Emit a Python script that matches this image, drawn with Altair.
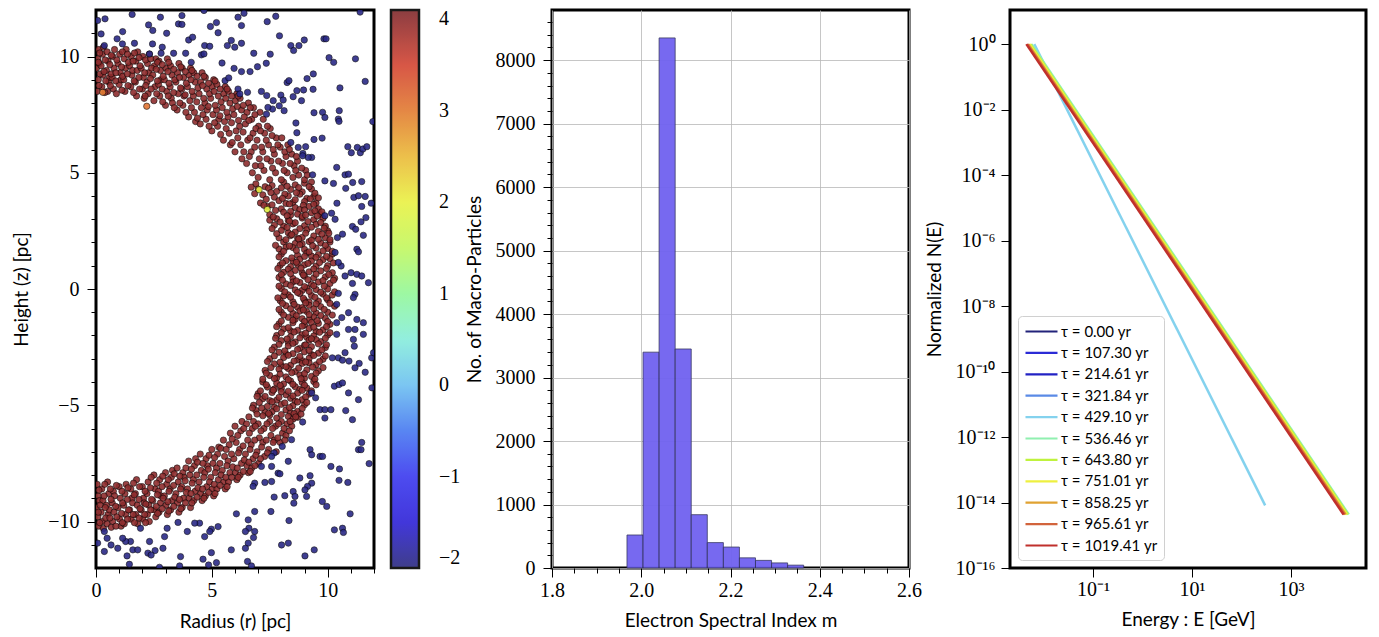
import altair as alt
import pandas as pd

# ---------------- Panel 1: particle positions (r, z) ----------------
red_pts = [
 (6.9,4.52),(7.6,4.45),(8.1,4.6),(8.6,4.48),(9.0,4.55),(7.3,4.4),
 (7.0,4.3),(7.8,4.2),(8.4,4.28),(8.9,4.18),(9.3,4.3),(8.0,4.35),
 (7.2,4.05),(7.7,3.95),(8.3,4.0),(8.8,4.08),(9.4,3.98),(9.1,3.9),
 (7.1,3.7),(7.9,3.8),(8.5,3.72),(9.0,3.76),(9.5,3.7),(8.2,3.68),
 (7.4,3.55),(8.0,3.45),(8.6,3.5),(9.2,3.55),(9.6,3.45),(8.8,3.42),
 (7.5,3.2),(8.1,3.3),(8.7,3.22),(9.3,3.28),(9.7,3.2),(8.4,3.18),
 (7.8,3.02),(8.3,2.95),(8.9,3.05),(9.4,2.98),(9.8,3.04),(7.5,2.96),
 (7.7,2.75),(8.5,2.8),(9.0,2.72),(9.5,2.78),(9.9,2.7),(8.1,2.7),
 (8.0,2.52),(8.6,2.45),(9.1,2.55),(9.6,2.48),(10.0,2.5),(8.3,2.42),
 (7.9,2.2),(8.4,2.3),(8.9,2.22),(9.4,2.28),(9.9,2.2),(8.7,2.18),
 (8.1,2.02),(8.6,1.96),(9.2,2.04),(9.7,1.98),(10.1,2.02),(8.9,1.94),
 (7.9,1.72),(8.5,1.78),(9.0,1.7),(9.5,1.76),(10.0,1.74),(8.2,1.8),
 (8.0,1.5),(8.7,1.45),(9.1,1.55),(9.6,1.48),(10.2,1.5),(9.3,1.42),
 (8.2,1.22),(8.8,1.28),(9.3,1.2),(9.8,1.26),(10.1,1.3),(8.5,1.2),
 (7.95,1.02),(8.4,0.96),(9.0,1.04),(9.5,0.98),(10.0,1.0),(8.7,1.06),
 (8.1,0.72),(8.6,0.8),(9.2,0.74),(9.7,0.78),(10.2,0.7),(8.9,0.7),
 (7.9,0.5),(8.5,0.45),(9.0,0.55),(9.4,0.48),(9.9,0.52),(10.3,0.46),
 (8.2,0.22),(8.8,0.28),(9.3,0.2),(9.6,0.3),(10.1,0.24),(8.5,0.3),
 (8.0,0.02),(8.6,-0.04),(9.1,0.04),(9.5,-0.02),(10.0,0.0),(8.9,-0.06),
 (8.3,-0.25),(8.8,-0.2),(9.3,-0.28),(9.8,-0.22),(10.2,-0.26),(8.1,-0.3),
 (7.95,-0.5),(8.5,-0.55),(9.0,-0.48),(9.6,-0.52),(10.0,-0.46),(9.2,-0.56),
 (8.2,-0.72),(8.7,-0.78),(9.2,-0.7),(9.7,-0.76),(10.3,-0.74),(8.9,-0.8),
 (8.0,-1.0),(8.5,-1.05),(9.1,-0.97),(9.5,-1.03),(10.0,-1.0),(8.8,-0.95),
 (8.3,-1.22),(8.9,-1.28),(9.4,-1.2),(9.9,-1.26),(8.6,-1.3),(9.2,-1.32),
 (7.9,-1.5),(8.5,-1.45),(9.0,-1.55),(9.6,-1.48),(10.1,-1.52),(9.3,-1.44),
 (8.1,-1.72),(8.7,-1.78),(9.2,-1.7),(9.8,-1.76),(8.4,-1.8),(9.5,-1.82),
 (7.8,-2.0),(8.4,-2.05),(8.9,-1.96),(9.4,-2.02),(10.0,-1.98),(9.1,-2.08),
 (8.0,-2.22),(8.6,-2.28),(9.2,-2.2),(9.7,-2.26),(8.3,-2.3),(9.5,-2.18),
 (7.7,-2.5),(8.3,-2.45),(8.8,-2.55),(9.3,-2.48),(9.9,-2.52),(9.0,-2.42),
 (7.9,-2.72),(8.5,-2.78),(9.0,-2.7),(9.6,-2.76),(8.2,-2.8),(9.3,-2.82),
 (7.5,-3.0),(8.1,-2.95),(8.7,-3.05),(9.2,-2.98),(9.8,-3.02),(8.9,-3.08),
 (7.7,-3.22),(8.4,-3.28),(8.9,-3.2),(9.5,-3.26),(8.0,-3.3),(9.2,-3.18),
 (7.3,-3.5),(7.9,-3.45),(8.6,-3.55),(9.1,-3.48),(9.6,-3.52),(8.3,-3.42),
 (7.5,-3.72),(8.2,-3.78),(8.8,-3.7),(9.3,-3.76),(7.8,-3.82),(9.0,-3.84),
 (7.2,-4.0),(7.8,-4.05),(8.4,-3.96),(8.9,-4.02),(9.4,-3.98),(8.1,-4.08),
 (7.4,-4.22),(8.0,-4.28),(8.6,-4.2),(9.1,-4.26),(7.7,-4.3),(8.8,-4.32),
 (7.0,-4.5),(7.6,-4.45),(8.2,-4.55),(8.7,-4.48),(9.2,-4.52),(8.0,-4.42),
 (7.2,-4.72),(7.8,-4.78),(8.4,-4.7),(8.9,-4.76),(7.5,-4.8),(8.6,-4.82),
 (6.8,-5.0),(7.4,-5.05),(8.0,-4.96),(8.5,-5.02),(9.0,-4.98),(7.7,-5.08),
 (6.9,-5.22),(7.6,-5.28),(8.2,-5.2),(8.7,-5.26),(7.3,-5.3),(8.4,-5.32),
 (6.6,-5.5),(7.2,-5.45),(7.8,-5.55),(8.3,-5.48),(8.7,-5.52),(7.5,-5.42),
 (0.05,8.5),(0.1,9.0),(0.02,9.5),(0.08,9.9),(0.12,10.3),(0.15,9.7),
 (0.25,8.7),(0.3,9.2),(0.22,9.6),(0.28,10.1),(0.32,10.4),
 (0.5,8.5),(0.55,8.9),(0.45,9.4),(0.52,9.8),(0.48,10.2),(0.58,9.1),
 (0.75,8.6),(0.7,9.1),(0.78,9.5),(0.72,10.0),(0.8,10.3),
 (1.0,8.8),(1.05,9.3),(0.95,9.7),(1.02,10.1),(1.08,9.0),
 (1.25,8.5),(1.2,9.0),(1.28,9.5),(1.22,9.9),(1.3,10.3),
 (1.5,8.7),(1.55,9.2),(1.45,9.6),(1.52,10.0),(1.58,9.4),
 (1.75,8.3),(1.7,8.9),(1.78,9.4),(1.72,9.8),(1.8,10.2),
 (2.0,8.6),(2.05,9.1),(1.95,9.5),(2.02,10.0),(2.08,8.2),
 (2.25,8.4),(2.2,8.9),(2.28,9.3),(2.22,9.7),(2.3,10.1),
 (2.5,8.1),(2.55,8.7),(2.45,9.2),(2.52,9.6),(2.58,9.9),
 (2.75,8.3),(2.7,8.8),(2.78,9.4),(2.72,9.8),(2.8,9.0),
 (3.0,7.9),(3.05,8.5),(2.95,9.0),(3.02,9.5),(3.08,9.9),
 (3.25,8.2),(3.2,8.7),(3.28,9.2),(3.22,9.6),(3.3,8.0),
 (3.5,7.7),(3.55,8.4),(3.45,8.9),(3.52,9.3),(3.58,9.7),
 (3.75,7.9),(3.7,8.6),(3.78,9.1),(3.72,9.5),(3.8,8.3),
 (4.0,7.4),(4.05,8.1),(3.95,8.7),(4.02,9.2),(4.08,9.5),
 (4.25,7.6),(4.2,8.3),(4.28,8.9),(4.22,9.3),(4.3,7.2),
 (4.5,7.1),(4.55,7.8),(4.45,8.4),(4.52,8.9),(4.58,9.3),
 (4.75,7.3),(4.7,8.0),(4.78,8.6),(4.72,9.1),(4.8,7.7),
 (5.0,6.8),(5.05,7.5),(4.95,8.2),(5.02,8.7),(5.08,9.0),
 (5.25,7.0),(5.2,7.7),(5.28,8.3),(5.22,8.8),(5.3,7.3),
 (5.5,6.4),(5.55,7.2),(5.45,7.8),(5.52,8.4),(5.58,8.7),
 (5.75,6.7),(5.7,7.4),(5.78,8.0),(5.72,8.5),(5.8,6.2),
 (6.0,5.9),(6.05,6.8),(5.95,7.5),(6.02,8.1),(6.08,8.4),
 (6.25,6.2),(6.2,7.0),(6.28,7.7),(6.22,8.2),(6.3,5.6),
 (6.5,5.4),(6.55,6.4),(6.45,7.1),(6.52,7.6),(6.58,8.0),
 (6.75,5.0),(6.7,5.9),(6.78,6.7),(6.72,7.3),(6.8,7.8),
 (7.0,4.8),(7.05,5.6),(6.95,6.4),(7.02,7.0),(7.08,7.6),
 (7.25,5.1),(7.2,5.9),(7.28,6.7),(7.22,7.3),
 (7.5,4.7),(7.55,5.5),(7.45,6.2),(7.52,6.9),
 (7.75,5.0),(7.7,5.8),(7.78,6.5),
 (8.0,4.7),(8.05,5.4),(7.95,6.1),(8.02,6.5),
 (8.25,5.0),(8.2,5.7),(8.28,6.2),
 (8.5,4.8),(8.55,5.3),(8.45,5.8),
 (8.75,4.9),(8.7,5.5),(9.0,4.7),(9.05,5.1),(9.3,4.6),
 (0.05,-8.4),(0.1,-8.9),(0.02,-9.4),(0.08,-9.8),(0.12,-10.2),(0.15,-9.1),
 (0.25,-8.6),(0.3,-9.1),(0.22,-9.6),(0.28,-10.0),(0.32,-10.3),
 (0.5,-8.3),(0.55,-8.8),(0.45,-9.3),(0.52,-9.7),(0.48,-10.1),(0.58,-9.5),
 (0.75,-8.7),(0.7,-9.2),(0.78,-9.6),(0.72,-10.0),(0.8,-8.9),
 (1.0,-8.5),(1.05,-9.0),(0.95,-9.4),(1.02,-9.9),(1.08,-10.2),
 (1.25,-8.8),(1.2,-9.3),(1.28,-9.7),(1.22,-10.1),(1.3,-8.4),
 (1.5,-8.6),(1.55,-9.0),(1.45,-9.5),(1.52,-9.9),(1.58,-9.2),
 (1.75,-8.2),(1.7,-8.8),(1.78,-9.3),(1.72,-9.7),(1.8,-10.1),
 (2.0,-8.5),(2.05,-9.0),(1.95,-9.5),(2.02,-9.9),(2.08,-9.2),
 (2.25,-8.3),(2.2,-8.8),(2.28,-9.3),(2.22,-9.7),(2.3,-10.0),
 (2.5,-8.0),(2.55,-8.6),(2.45,-9.1),(2.52,-9.5),(2.58,-9.8),
 (2.75,-8.2),(2.7,-8.7),(2.78,-9.2),(2.72,-9.6),(2.8,-8.9),
 (3.0,-7.9),(3.05,-8.4),(2.95,-8.9),(3.02,-9.3),(3.08,-9.7),
 (3.25,-8.1),(3.2,-8.6),(3.28,-9.1),(3.22,-9.5),(3.3,-7.8),
 (3.5,-7.7),(3.55,-8.3),(3.45,-8.8),(3.52,-9.2),(3.58,-9.6),
 (3.75,-7.9),(3.7,-8.5),(3.78,-9.0),(3.72,-9.4),(3.8,-8.1),
 (4.0,-7.4),(4.05,-8.0),(3.95,-8.6),(4.02,-9.0),(4.08,-9.4),
 (4.25,-7.6),(4.2,-8.2),(4.28,-8.7),(4.22,-9.1),(4.3,-7.3),
 (4.5,-7.1),(4.55,-7.8),(4.45,-8.3),(4.52,-8.8),(4.58,-9.1),
 (4.75,-7.3),(4.7,-7.9),(4.78,-8.5),(4.72,-8.9),(4.8,-7.6),
 (5.0,-6.9),(5.05,-7.5),(4.95,-8.1),(5.02,-8.6),(5.08,-8.9),
 (5.25,-7.1),(5.2,-7.7),(5.28,-8.2),(5.22,-8.6),(5.3,-6.8),
 (5.5,-6.5),(5.55,-7.2),(5.45,-7.8),(5.52,-8.3),(5.58,-8.6),
 (5.75,-6.7),(5.7,-7.4),(5.78,-7.9),(5.72,-8.3),(5.8,-6.2),
 (6.0,-5.9),(6.05,-6.6),(5.95,-7.3),(6.02,-7.9),(6.08,-8.2),
 (6.25,-6.1),(6.2,-6.9),(6.28,-7.5),(6.22,-8.0),(6.3,-5.7),
 (6.5,-5.8),(6.55,-6.5),(6.45,-7.1),(6.52,-7.6),(6.58,-7.9),
 (6.75,-6.0),(6.7,-6.7),(6.78,-7.3),(6.72,-7.7),(6.8,-5.7),
 (7.0,-5.8),(7.05,-6.4),(6.95,-7.0),(7.02,-7.5),
 (7.25,-6.0),(7.2,-6.6),(7.28,-7.2),
 (7.5,-5.7),(7.55,-6.3),(7.45,-6.9),
 (7.75,-5.9),(7.7,-6.5),(7.78,-7.0),
 (8.0,-5.7),(8.05,-6.2),(7.95,-6.6),
 (8.25,-5.8),(8.2,-6.3),(8.5,-5.6),(8.45,-5.9),
]

red_pts_b = [
 (6.7,4.38),(7.45,4.33),(8.25,4.42),(8.75,4.36),(9.2,4.4),
 (6.85,4.1),(7.55,4.15),(8.15,4.08),(8.65,4.14),(9.45,4.12),
 (7.35,3.86),(8.05,3.9),(8.6,3.84),(9.25,3.88),(9.6,3.92),
 (7.6,3.62),(8.35,3.66),(8.95,3.6),(9.4,3.64),(7.25,3.6),
 (7.75,3.38),(8.4,3.34),(9.0,3.4),(9.45,3.36),(9.75,3.32),
 (7.65,3.1),(8.25,3.15),(8.9,3.12),(9.55,3.14),(9.05,3.18),
 (7.95,2.88),(8.6,2.85),(9.15,2.9),(9.7,2.86),(8.35,2.92),
 (7.6,2.6),(8.25,2.65),(8.8,2.6),(9.3,2.66),(9.85,2.62),
 (7.8,2.38),(8.45,2.34),(9.05,2.4),(9.75,2.36),(10.05,2.4),
 (8.2,2.12),(8.75,2.15),(9.3,2.1),(9.6,2.14),(10.1,2.12),
 (7.75,1.88),(8.35,1.85),(8.8,1.9),(9.35,1.86),(9.9,1.88),
 (8.1,1.62),(8.65,1.66),(9.2,1.6),(9.8,1.64),(10.2,1.62),
 (7.9,1.38),(8.45,1.34),(9.0,1.4),(9.5,1.36),(9.95,1.4),
 (8.05,1.12),(8.65,1.15),(9.15,1.1),(9.65,1.14),(10.25,1.12),
 (7.85,0.88),(8.3,0.85),(8.85,0.9),(9.4,0.86),(9.95,0.88),
 (8.0,0.62),(8.4,0.66),(8.95,0.6),(9.5,0.64),(10.05,0.62),
 (8.05,0.38),(8.65,0.35),(9.15,0.4),(9.8,0.36),(10.25,0.38),
 (7.9,0.12),(8.4,0.15),(9.0,0.1),(9.4,0.14),(9.85,0.12),
 (8.15,-0.12),(8.7,-0.15),(9.2,-0.1),(9.7,-0.14),(10.3,-0.12),
 (7.85,-0.38),(8.4,-0.35),(8.95,-0.4),(9.45,-0.36),(9.95,-0.38),
 (8.05,-0.62),(8.55,-0.66),(9.05,-0.6),(9.5,-0.64),(10.1,-0.62),
 (7.9,-0.88),(8.4,-0.85),(8.95,-0.9),(9.4,-0.86),(9.85,-0.88),
 (8.1,-1.12),(8.65,-1.15),(9.2,-1.1),(9.7,-1.14),(10.2,-1.12),
 (8.0,-1.38),(8.5,-1.34),(9.0,-1.4),(9.55,-1.36),(10.0,-1.4),
 (7.8,-1.62),(8.3,-1.66),(8.9,-1.6),(9.4,-1.64),(9.95,-1.62),
 (8.0,-1.88),(8.55,-1.85),(9.05,-1.9),(9.65,-1.86),(10.1,-1.88),
 (7.75,-2.12),(8.25,-2.15),(8.8,-2.1),(9.3,-2.14),(9.9,-2.12),
 (7.9,-2.38),(8.5,-2.34),(9.05,-2.4),(9.6,-2.36),(9.95,-2.4),
 (7.6,-2.62),(8.15,-2.66),(8.7,-2.6),(9.2,-2.64),(9.75,-2.62),
 (7.7,-2.88),(8.3,-2.85),(8.8,-2.9),(9.4,-2.86),(9.9,-2.88),
 (7.4,-3.12),(7.95,-3.15),(8.55,-3.1),(9.05,-3.14),(9.65,-3.12),
 (7.55,-3.38),(8.2,-3.34),(8.75,-3.4),(9.35,-3.36),(9.8,-3.38),
 (7.35,-3.62),(7.95,-3.66),(8.45,-3.6),(9.0,-3.64),(9.5,-3.62),
 (7.2,-3.88),(7.7,-3.85),(8.3,-3.9),(8.85,-3.86),(9.45,-3.88),
 (7.35,-4.12),(7.95,-4.15),(8.5,-4.1),(9.0,-4.14),(9.5,-4.12),
 (7.1,-4.38),(7.65,-4.35),(8.3,-4.4),(8.9,-4.36),(9.3,-4.38),
 (7.3,-4.62),(7.9,-4.66),(8.5,-4.6),(9.05,-4.64),(6.95,-4.62),
 (7.05,-4.88),(7.6,-4.85),(8.15,-4.9),(8.7,-4.86),(9.1,-4.88),
 (7.15,-5.12),(7.8,-5.15),(8.35,-5.1),(8.9,-5.14),(6.75,-5.12),
 (6.95,-5.38),(7.45,-5.35),(8.0,-5.4),(8.55,-5.36),(8.85,-5.38),
 (0.13,8.75),(0.18,9.25),(0.1,9.75),(0.16,10.15),
 (0.38,8.45),(0.35,9.35),(0.4,9.85),(0.42,8.95),
 (0.62,8.75),(0.65,9.25),(0.6,9.65),(0.66,10.05),
 (0.88,8.4),(0.85,8.95),(0.9,9.85),(0.86,9.3),
 (1.12,8.55),(1.15,9.15),(1.1,9.55),(1.14,10.2),
 (1.38,8.75),(1.35,9.25),(1.4,9.75),(1.36,10.1),
 (1.62,8.45),(1.65,8.95),(1.6,9.8),(1.66,10.15),
 (1.88,8.6),(1.85,9.1),(1.9,9.6),(1.86,9.95),
 (2.12,8.3),(2.15,8.75),(2.1,9.3),(2.14,9.85),
 (2.38,8.6),(2.35,9.05),(2.4,9.5),(2.36,9.9),
 (2.62,8.4),(2.65,8.95),(2.6,9.45),(2.66,9.75),
 (2.88,8.05),(2.85,8.6),(2.9,9.15),(2.86,9.65),
 (3.12,8.3),(3.15,8.85),(3.1,9.35),(3.14,9.75),
 (3.38,7.8),(3.35,8.45),(3.4,9.0),(3.36,9.45),
 (3.62,8.0),(3.65,8.65),(3.6,9.1),(3.66,9.55),
 (3.88,7.6),(3.85,8.35),(3.9,8.85),(3.86,9.35),
 (4.12,7.8),(4.15,8.5),(4.1,9.0),(4.14,9.4),
 (4.38,7.35),(4.35,8.05),(4.4,8.65),(4.36,9.15),
 (4.62,7.5),(4.65,8.2),(4.6,8.75),(4.66,9.15),
 (4.88,7.0),(4.85,7.85),(4.9,8.4),(4.86,8.85),
 (5.12,7.15),(5.15,7.9),(5.1,8.5),(5.14,8.95),
 (5.38,6.65),(5.35,7.45),(5.4,8.05),(5.36,8.6),
 (5.62,6.9),(5.65,7.6),(5.6,8.2),(5.66,8.6),
 (5.88,6.3),(5.85,7.15),(5.9,7.75),(5.86,8.3),
 (6.12,6.5),(6.15,7.25),(6.1,7.85),(6.14,8.3),
 (6.38,5.9),(6.35,6.75),(6.4,7.4),(6.36,7.9),
 (6.62,5.7),(6.65,6.5),(6.6,7.25),(6.66,7.8),
 (6.88,5.3),(6.85,6.1),(6.9,6.9),(6.86,7.5),
 (7.12,5.3),(7.15,6.1),(7.1,6.8),(7.38,5.6),(7.35,6.4),(7.4,7.0),(7.62,5.2),(7.65,6.0),
 (7.6,6.6),(7.88,5.5),(7.85,6.2),(8.12,5.1),(8.15,5.9),(8.38,5.4),(8.35,6.0),(8.62,5.1),
 (8.65,5.7),(8.88,5.2),(9.12,4.9),
 (0.13,-8.65),(0.18,-9.3),(0.1,-9.6),(0.16,-10.05),
 (0.38,-8.4),(0.35,-8.9),(0.4,-9.4),(0.42,-9.85),
 (0.62,-8.6),(0.65,-9.05),(0.6,-9.85),(0.66,-10.25),
 (0.88,-8.45),(0.85,-9.35),(0.9,-9.8),(0.86,-10.2),
 (1.12,-8.7),(1.15,-9.2),(1.1,-9.65),(1.14,-10.05),
 (1.38,-8.55),(1.35,-9.05),(1.4,-9.5),(1.36,-9.9),
 (1.62,-8.35),(1.65,-8.85),(1.6,-9.7),(1.66,-10.05),
 (1.88,-8.5),(1.85,-9.05),(1.9,-9.45),(1.86,-9.85),
 (2.12,-8.7),(2.15,-9.25),(2.1,-9.7),(2.14,-10.05),
 (2.38,-8.1),(2.35,-8.55),(2.4,-9.05),(2.36,-9.5),
 (2.62,-8.35),(2.65,-8.85),(2.6,-9.35),(2.66,-9.65),
 (2.88,-8.05),(2.85,-8.5),(2.9,-9.0),(2.86,-9.45),
 (3.12,-8.2),(3.15,-8.7),(3.1,-9.15),(3.14,-9.55),
 (3.38,-7.95),(3.35,-8.45),(3.4,-8.95),(3.36,-9.35),
 (3.62,-8.05),(3.65,-8.6),(3.6,-9.05),(3.66,-9.45),
 (3.88,-7.7),(3.85,-8.25),(3.9,-8.75),(3.86,-9.2),
 (4.12,-7.75),(4.15,-8.35),(4.1,-8.8),(4.14,-9.2),
 (4.38,-7.45),(4.35,-8.0),(4.4,-8.55),(4.36,-8.95),
 (4.62,-7.5),(4.65,-8.1),(4.6,-8.6),(4.66,-9.0),
 (4.88,-7.15),(4.85,-7.75),(4.9,-8.3),(4.86,-8.75),
 (5.12,-7.25),(5.15,-7.9),(5.1,-8.4),(5.14,-8.8),
 (5.38,-6.85),(5.35,-7.5),(5.4,-8.0),(5.36,-8.45),
 (5.62,-6.9),(5.65,-7.6),(5.6,-8.1),(5.66,-8.5),
 (5.88,-6.45),(5.85,-7.1),(5.9,-7.65),(5.86,-8.1),
 (6.12,-6.3),(6.15,-7.05),(6.1,-7.7),(6.14,-8.1),
 (6.38,-6.0),(6.35,-6.75),(6.4,-7.35),(6.36,-7.85),
 (6.62,-6.2),(6.65,-6.9),(6.6,-7.45),(6.66,-7.85),
 (6.88,-5.9),(6.85,-6.5),(6.9,-7.15),(6.86,-7.6),
 (7.12,-6.1),(7.15,-6.8),(7.1,-7.3),(7.38,-5.8),(7.35,-6.5),(7.4,-7.05),(7.62,-6.0),(7.65,-6.6),
 (7.88,-5.8),(7.85,-6.4),(8.12,-6.0),(8.15,-6.5),(8.38,-5.7),(8.35,-6.1),(8.62,-5.5),
]

blue_pts = [
 (0.07,11.55),(0.39,11.62),(1.56,11.81),(2.78,11.69),(3.71,11.76),(4.66,11.98),(6.13,11.69),(6.39,11.86),
 (7.76,11.73),(11.4,11.91),(0.22,10.97),(0.91,10.76),(1.15,11.07),(2.27,11.36),(2.45,11.12),(3.05,11.0),
 (3.56,11.4),(3.71,11.38),(4.94,11.29),(5.2,11.46),(5.27,11.02),(6.28,11.33),(7.39,11.5),(7.92,10.89),
 (9.84,10.76),(9.93,10.76),(0.36,10.47),(1.14,10.54),(1.66,10.57),(2.44,10.54),(2.86,10.4),(4.0,10.71),
 (4.17,10.83),(4.69,10.47),(4.91,10.44),(5.67,10.47),(5.84,10.69),(5.99,10.4),(6.28,10.57),(8.41,10.47),
 (8.53,10.26),(8.76,10.47),(8.99,10.71),(2.31,10.11),(2.81,10.14),(3.35,10.14),(3.87,10.14),(4.55,10.07),
 (4.66,10.11),(6.81,10.14),(7.52,10.1),(10.06,9.95),(10.26,9.75),(11.2,9.9),(4.11,9.75),(5.44,9.72),
 (5.96,9.49),(6.28,9.35),(6.65,9.35),(6.97,9.56),(7.35,9.71),(11.62,8.93),(5.57,8.96),(5.73,9.08),
 (8.25,8.88),(8.33,8.96),(9.11,9.05),(9.38,9.25),(10.53,8.65),(6.13,8.6),(6.54,8.46),(6.21,8.39),
 (7.14,8.5),(7.37,8.32),(7.98,8.34),(8.51,8.27),(8.67,8.53),(8.96,8.56),(9.37,8.59),(7.65,8.1),
 (8.08,8.13),(8.87,8.1),(7.91,7.88),(8.12,7.67),(7.62,7.74),(7.42,7.81),(7.36,7.52),(9.41,7.58),
 (9.78,7.6),(9.88,7.38),(10.5,7.67),(10.46,7.31),(10.49,7.21),(11.95,7.2),(8.63,7.14),(8.67,6.72),
 (9.41,6.43),(9.76,6.49),(10.39,5.23),(10.87,6.12),(11.02,5.86),(11.28,6.09),(11.41,5.86),(11.52,6.02),
 (11.69,6.12),(8.41,6.3),(8.73,6.09),(8.93,5.83),(9.05,6.12),(9.31,5.66),(9.16,5.66),(8.92,5.73),
 (10.75,4.91),(10.9,4.94),(11.08,4.58),(11.47,4.62),(10.25,4.54),(9.88,4.65),(9.35,4.91),
 (10.78,4.33),(11.13,3.94),(11.33,4.01),(11.62,3.98),(11.88,3.69),(10.4,3.69),(11.47,3.55),(10.17,3.26),
 (9.88,3.15),(10.32,3.0),(11.44,2.89),(11.65,3.07),(11.07,2.69),(11.54,2.31),(11.21,2.57),(10.42,2.21),
 (10.64,2.36),(11.26,1.71),(11.33,1.6),(10.32,1.57),(10.58,0.99),(10.46,1.14),(11.01,0.7),(11.26,0.63),
 (11.47,0.56),(11.76,0.27),(11.07,0.24),(10.75,0.56),(11.18,-0.23),(11.11,-0.37),(10.46,-0.19),(10.39,-0.66),
 (10.9,-1.02),(10.39,-1.45),(10.61,-1.23),(11.26,-1.31),(11.54,-1.45),(11.18,-1.74),(11.54,-1.95),(10.9,-1.74),
 (10.39,-1.95),(11.11,-2.17),(11.15,-2.46),(10.75,-2.74),(10.46,-2.96),(10.2,-2.96),(10.64,-3.06),(10.92,-3.1),
 (11.36,-3.2),(11.62,-3.58),(11.18,-3.39),(11.9,-2.96),(11.98,-2.74),
 (10.29,-4.18),(10.49,-4.11),(10.64,-4.04),(10.9,-4.47),(11.33,-4.76),(11.91,-4.25),(9.31,-4.47),(9.48,-4.68),
 (9.67,-5.19),(9.88,-5.19),(10.14,-5.19),(9.88,-5.55),(10.78,-5.23),(11.07,-5.62),(8.92,-5.72),(8.44,-6.48),
 (8.04,-6.77),(7.69,-7.05),(7.58,-7.2),(9.24,-6.91),(9.31,-7.13),(9.67,-7.2),(9.78,-7.2),(10.14,-7.63),
 (10.51,-7.74),(10.49,-8.23),(10.87,-8.32),(10.97,-9.67),(11.47,-6.6),(11.33,-6.91),(11.44,-6.91),(11.79,-7.51),
 (8.3,-7.41),(7.58,-7.63),(7.14,-7.63),(7.86,-7.92),(7.94,-7.95),(8.8,-8.13),(9.24,-8.03),(9.31,-8.35),
 (9.13,-8.49),(6.85,-8.35),(6.78,-8.49),(7.58,-8.28),(7.29,-8.32),(7.69,-8.95),(8.15,-8.89),(8.51,-8.71),
 (8.59,-8.92),(8.54,-9.21),(9.02,-8.64),(9.09,-8.92),(9.77,-9.14),(9.96,-9.35),(8.33,-9.96),(7.55,-9.57),
 (6.85,-9.57),(6.57,-9.93),(6.06,-9.67),(10.29,-10.36),(10.64,-10.29),(10.68,-10.47),(6.6,-10.29),(6.45,-10.43),
 (6.85,-10.43),(6.8,-10.69),(6.57,-10.93),(5.27,-10.22),(4.98,-10.33),(4.91,-10.43),(4.69,-10.65),(4.47,-10.07),
 (4.26,-10.07),(3.94,-10.43),(3.54,-10.04),(3.07,-10.29),(2.96,-10.65),(2.89,-11.15),(2.55,-11.25),(2.24,-11.36),
 (2.31,-10.86),(1.92,-10.29),(1.59,-11.22),(1.49,-10.86),(1.28,-10.86),(1.15,-10.72),(0.94,-11.15),(0.65,-11.01),
 (0.36,-11.29),(0.48,-10.72),(0.36,-10.43),(0.07,-10.93),(1.8,-11.22),(1.34,-11.48),(2.38,-11.44),(3.65,-11.51),
 (3.61,-11.91),(4.62,-11.62),(4.98,-11.34),(5.2,-11.77),(4.86,-11.87),(6.54,-11.72),(6.71,-11.91),(5.84,-11.22),
 (6.45,-11.15),(8.01,-11.01),(8.3,-10.93),(9.02,-11.48),(9.42,-11.22),(1.44,-11.84),(2.74,-11.97),
]

# special particles: (r, z, index)
special_pts = [(0.29, 8.46, 3.0), (2.19, 7.86, 3.05), (7.04, 4.27, 2.0), (7.39, 3.42, 1.95)]
red_index = 4.0
blue_index = -1.95

cbar_stops = [-2.0, -1.492, -0.983, -0.475, 0.033, 0.542, 1.05, 1.558, 2.067, 2.575, 3.083, 3.592, 4.1]
cbar_colors = ["#2b2a7e", "#2e22d8", "#3a3af0", "#4a7cf0", "#74c4f0", "#8ef0d8", "#98f890",
               "#c8f858", "#eef040", "#e8b038", "#e07032", "#d03a34", "#7e2a2c"]
cbar_ticks = [-2, -1, 0, 1, 2, 3, 4]

# ---------------- Panel 2: histogram of spectral index ----------------
bin_start = [1.968, 2.004, 2.040, 2.076, 2.112, 2.148, 2.184, 2.220, 2.256, 2.292, 2.328]
bin_end   = [2.004, 2.040, 2.076, 2.112, 2.148, 2.184, 2.220, 2.256, 2.292, 2.328, 2.364]
bin_count = [520, 3400, 8350, 3450, 840, 400, 330, 160, 120, 80, 45]

# ---------------- Panel 3: normalized spectra ----------------
tau_labels = ["τ = 0.00 yr", "τ = 107.30 yr", "τ = 214.61 yr", "τ = 321.84 yr", "τ = 429.10 yr",
              "τ = 536.46 yr", "τ = 643.80 yr", "τ = 751.01 yr", "τ = 858.25 yr", "τ = 965.61 yr",
              "τ = 1019.41 yr"]
tau_colors = ["#22237a", "#2b2bd6", "#2222c4", "#5a8ae6", "#84d2ee", "#90f0b0", "#bff23e",
              "#eef040", "#e0a232", "#d2643c", "#c0302c"]
line_tau = ["τ = 429.10 yr", "τ = 536.46 yr", "τ = 643.80 yr", "τ = 751.01 yr",
            "τ = 858.25 yr", "τ = 965.61 yr", "τ = 1019.41 yr"]
E_start = [0.0065, 0.0057, 0.0054, 0.0052, 0.0049, 0.0047, 0.0045]
N_start = [1.0, 1.0, 1.0, 1.0, 1.0, 1.0, 1.0]
E_end = [302, 14800, 14100, 13500, 12800, 12200, 11600]
N_end = [8.2e-15, 4.3e-15, 4.3e-15, 4.3e-15, 4.3e-15, 4.3e-15, 4.3e-15]

# ---------------- build tables ----------------
rows1 = [{"r": r, "z": z, "v": red_index} for r, z in red_pts + red_pts_b]
rows1 += [{"r": r, "z": z, "v": blue_index} for r, z in blue_pts]
rows1 += [{"r": r, "z": z, "v": v} for r, z, v in special_pts]
for i, row in enumerate(rows1):
    row["o"] = i
df1 = pd.DataFrame(rows1)

df2 = pd.DataFrame({"start": bin_start, "end": bin_end, "count": bin_count})

rows3 = []
for k, t in enumerate(line_tau):
    rows3.append({"tau": t, "E": E_start[k], "N": N_start[k], "p": 0})
    rows3.append({"tau": t, "E": E_end[k], "N": N_end[k], "p": 1})
df3 = pd.DataFrame(rows3)

SERIF = "Liberation Serif"
SANS = "Lato"
LBL = 20
TTL = 19

def tick_cond(test, big=9, small=5):
    return {"condition": {"test": test, "value": big}, "value": small}

sup = ("replace(replace(replace(replace(replace(replace(replace(replace(replace(replace(replace("
       "toString(round(log(datum.value)/LN10)),'-','⁻'),'0','⁰'),'1','¹'),'2','²'),'3','³'),"
       "'4','⁴'),'5','⁵'),'6','⁶'),'7','⁷'),'8','⁸'),'9','⁹')")
pow_label = "'10' + " + sup

common_axis = dict(labelFont=SERIF, labelFontSize=LBL, labelColor="black", labelFlush=False,
                   labelOverlap=False, titleFont=SANS, titleFontSize=TTL, titleFontWeight="normal",
                   titleColor="black")

# Panel 1
m5 = "datum.value % 5 === 0"
ax_x1 = alt.Axis(values=list(range(0, 13)), labelExpr=f"{m5} ? datum.label : ''",
                 tickSize=tick_cond(m5), labelPadding=3, title="Radius (r) [pc]", grid=False,
                 titlePadding=12, **common_axis)
ax_y1 = alt.Axis(values=list(range(-11, 12)), labelExpr=f"{m5} ? datum.label : ''",
                 tickSize=tick_cond(m5), labelPadding=8, title="Height (z) [pc]", grid=False,
                 titleX=-75, titleBaseline="middle", **common_axis)

p1 = alt.Chart(df1).mark_circle(size=40, stroke="black", strokeWidth=0.6, opacity=0.9, clip=True).encode(
    x=alt.X("r:Q", scale=alt.Scale(domain=[0, 12], nice=False, zero=False), axis=ax_x1),
    y=alt.Y("z:Q", scale=alt.Scale(domain=[-12, 12], nice=False, zero=False), axis=ax_y1),
    color=alt.Color("v:Q", scale=alt.Scale(domain=cbar_stops, range=cbar_colors),
                    legend=alt.Legend(title=None, orient="right", direction="vertical", gradientLength=558,
                                      gradientThickness=28, gradientStrokeColor="black",
                                      gradientStrokeWidth=2.5, values=cbar_ticks, offset=17, padding=0,
                                      format="d", labelFont=SERIF, labelFontSize=LBL, labelColor="black",
                                      labelOffset=20, labelBaseline="middle")),
    order=alt.Order("o:Q"),
).properties(width=278, height=558)

# Panel 2
m02 = "abs(datum.value*5 - round(datum.value*5)) < 0.001"
m1000 = "datum.value % 1000 === 0"
ax_x2 = alt.Axis(values=[1.8, 1.85, 1.9, 1.95, 2.0, 2.05, 2.1, 2.15, 2.2, 2.25, 2.3, 2.35, 2.4,
                         2.45, 2.5, 2.55, 2.6],
                 labelExpr=f"{m02} ? format(datum.value, '.1f') : ''",
                 tickSize=tick_cond(m02), labelPadding=3, titlePadding=11,
                 gridOpacity={"condition": {"test": m02, "value": 1}, "value": 0},
                 title="Electron Spectral Index m", grid=True, **common_axis)
ax_y2 = alt.Axis(values=list(range(0, 8601, 200)), labelExpr=f"{m1000} ? datum.label : ''",
                 format="d", tickSize=tick_cond(m1000), labelPadding=8,
                 gridOpacity={"condition": {"test": m1000, "value": 1}, "value": 0},
                 title="No. of Macro-Particles", grid=True, titleX=-78, titleBaseline="middle",
                 **common_axis)

p2 = alt.Chart(df2).mark_bar(color="#7062f0", stroke="#30305a", strokeWidth=0.8, opacity=0.95).encode(
    x=alt.X("start:Q", scale=alt.Scale(domain=[1.8, 2.6], nice=False, zero=False), axis=ax_x2),
    x2="end:Q",
    y=alt.Y("count:Q", scale=alt.Scale(domain=[0, 8790], nice=False), axis=ax_y2),
    y2=alt.datum(0),
).properties(width=357, height=558)

# Panel 3
ax_x3 = alt.Axis(values=[0.1, 10, 1000], labelExpr=pow_label, tickSize=9, labelPadding=2,
                 titlePadding=11, title="Energy :  E [GeV]", grid=False, **common_axis)
ax_y3 = alt.Axis(values=[1, 1e-2, 1e-4, 1e-6, 1e-8, 1e-10, 1e-12, 1e-14, 1e-16], labelExpr=pow_label,
                 tickSize=9, labelPadding=6, title="Normalized N(E)", grid=False,
                 titleX=-76, titleBaseline="middle", **common_axis)

p3 = alt.Chart(df3).mark_line(strokeWidth=2.5, clip=True).encode(
    x=alt.X("E:Q", scale=alt.Scale(type="log", domain=[0.0021, 33000], nice=False), axis=ax_x3),
    y=alt.Y("N:Q", scale=alt.Scale(type="log", domain=[1e-16, 11], nice=False), axis=ax_y3),
    color=alt.Color("tau:N", scale=alt.Scale(domain=tau_labels, range=tau_colors),
                    legend=alt.Legend(title=None, orient="bottom-left", offset=8, padding=6,
                                      fillColor="white", strokeColor="#d0d0d0", cornerRadius=4,
                                      symbolType="M-2,0L2,0", symbolSize=256, symbolStrokeWidth=2.2,
                                      symbolOffset=8, labelOffset=10, rowPadding=3.4,
                                      labelFont=SANS, labelFontSize=15, labelColor="black")),
    order=alt.Order("p:Q"),
).properties(width=356, height=558)

chart = alt.hconcat(p1, p2, p3, spacing=0).resolve_scale(
    color="independent", x="independent", y="independent"
).resolve_legend(color="independent").properties(
    padding={"left": 2, "top": 0, "right": 0, "bottom": 0}
).configure_view(stroke="black", strokeWidth=3).configure_axis(
    domain=False, tickColor="black", tickWidth=1, gridColor="#b8b8b8", gridWidth=0.8, titlePadding=6
)

chart.save("out.html", embed_options={"renderer": "svg", "actions": False})
